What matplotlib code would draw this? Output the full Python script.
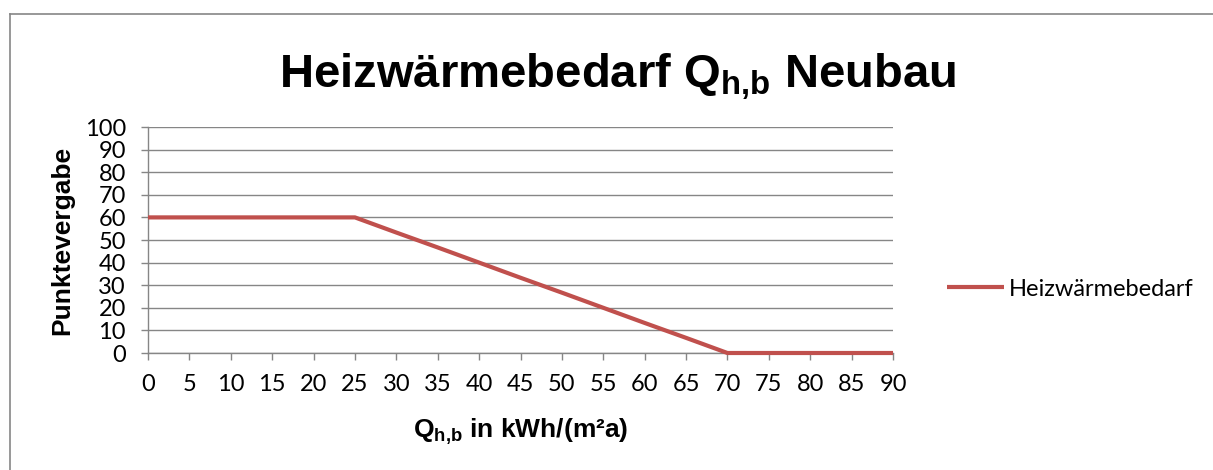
import matplotlib
matplotlib.use("Agg")
import matplotlib.pyplot as plt
from matplotlib.lines import Line2D

# Data (Excel category axis, 0..90 step 5)
q_hb = [0, 5, 10, 15, 20, 25, 30, 35, 40, 45, 50, 55, 60, 65, 70, 75, 80, 85, 90]
punkte = [60, 60, 60, 60, 60, 60, 53.3, 46.7, 40, 33.3, 26.7, 20, 13.3, 6.7, 0, 0, 0, 0, 0]
y_ticks = [0, 10, 20, 30, 40, 50, 60, 70, 80, 90, 100]
series_name = "Heizwärmebedarf"

plt.rcParams['mathtext.fontset'] = 'custom'
plt.rcParams['mathtext.bf'] = 'Liberation Sans:bold'
plt.rcParams['mathtext.rm'] = 'Liberation Sans'

W, H = 1213, 470
fig = plt.figure(figsize=(W / 100, H / 100), dpi=100)
ax = fig.add_axes([148 / W, 1 - 353 / H, (893 - 148) / W, (353 - 127) / H])

grey = '#868686'
ax.plot(q_hb, punkte, color='#C0504D', lw=3, label=series_name,
        solid_joinstyle='round', solid_capstyle='butt', clip_on=False, zorder=3)

ax.set_xlim(0, 90)
ax.set_ylim(0, 100)
ax.set_xticks(q_hb)
ax.set_yticks(y_ticks)
ax.grid(axis='y', color=grey, lw=1.0)
ax.set_axisbelow(True)

for s in ['top', 'right']:
    ax.spines[s].set_visible(False)
for s in ['left', 'bottom']:
    ax.spines[s].set_color(grey)
    ax.spines[s].set_linewidth(1.0)

ax.tick_params(axis='both', colors=grey, length=5, width=1.0, labelcolor='black')
ax.tick_params(axis='x', pad=10)
ax.tick_params(axis='y', pad=11)
for lab in ax.get_xticklabels() + ax.get_yticklabels():
    lab.set_family('Lato')
    lab.set_fontsize(17)

# axis titles
ax.set_ylabel('Punktevergabe', family='Liberation Sans', weight='bold', fontsize=19)
ax.yaxis.set_label_coords(-0.099, 0.5)
ax.set_xlabel(r'$\mathbf{Q_{h{,}b}}$ in kWh/(m²a)', family='Liberation Sans',
              weight='bold', fontsize=19, va='baseline')
ax.xaxis.set_label_coords(0.5, (353 - 438) / 226)

# chart title
fig.text(618 / W, 1 - 88 / H, r'Heizwärmebedarf $\mathbf{Q_{h{,}b}}$ Neubau',
         family='Liberation Sans', weight='bold',
         fontsize=34, ha='center', va='baseline')

# legend
leg = ax.legend(loc='center left', bbox_to_anchor=((947 - 148) / 745, (353 - 289) / 226),
                frameon=False, borderpad=0, borderaxespad=0, handlelength=2.4,
                handletextpad=0.2, prop={'family': 'Lato', 'size': 17})

# chart border (left and top only visible)
fig.add_artist(Line2D([10 / W, 10 / W], [0, 1 - 14 / H], color=grey, lw=1.2))
fig.add_artist(Line2D([10 / W, 1], [1 - 14 / H, 1 - 14 / H], color=grey, lw=1.2))

fig.savefig('out.png', dpi=100)
